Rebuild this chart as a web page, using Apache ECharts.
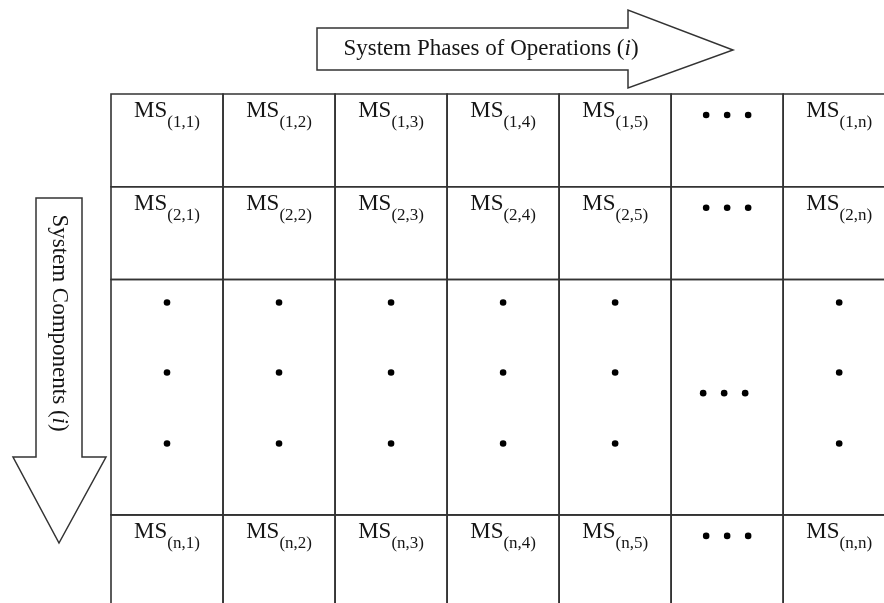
<!DOCTYPE html>
<html>
<head>
<meta charset="utf-8">
<script src="https://cdn.jsdelivr.net/npm/echarts@6/dist/echarts.min.js"></script>
<style>
html,body{margin:0;padding:0;background:#fff;}
#c{width:884px;height:603px;}
</style>
</head>
<body>
<div id="c"></div>
<script>
// ---- data ----
const colLabels = ['1', '2', '3', '4', '5', '…', 'n'];
const rowLabels = ['1', '2', '…', 'n'];
const topTitle = 'System Phases of Operations (';
const leftTitle = 'System Components (';
const titleVar = 'i';

// ---- layout ----
const rowEdges = [0, 1, 2, 4.54, 5.54];
const cells = [];
rowLabels.forEach((r, ri) => colLabels.forEach((c, ci) => cells.push([ci, ri])));

const LINE = '#333';
const INK = '#151515';
const SERIF = '"Liberation Serif", "Times New Roman", serif';

function renderItem(params, api) {
  const ci = api.value(0), ri = api.value(1);
  const x0 = api.coord([ci, 0])[0], x1 = api.coord([ci + 1, 0])[0];
  const y0 = api.coord([0, rowEdges[ri]])[1], y1 = api.coord([0, rowEdges[ri + 1]])[1];
  const cx = (x0 + x1) / 2;
  const children = [{
    type: 'rect',
    shape: { x: x0, y: y0, width: x1 - x0, height: y1 - y0 },
    style: { fill: 'none', stroke: LINE, lineWidth: 1.6 }
  }];
  const c = colLabels[ci], r = rowLabels[ri];
  const dot = (x, y) => ({ type: 'circle', shape: { cx: x, cy: y, r: 3.3 }, style: { fill: '#000' } });
  if (c === '…' && r === '…') {
    const y = (y0 + y1) / 2 - 4;
    [-21, 0, 21].forEach(d => children.push(dot(cx - 3 + d, y)));
  } else if (c === '…') {
    [-21, 0, 21].forEach(d => children.push(dot(cx + d, y0 + 21)));
  } else if (r === '…') {
    [23, 93, 164].forEach(d => children.push(dot(cx, y0 + d)));
  } else {
    children.push({
      type: 'text',
      x: cx, y: y0 - 3,
      style: {
        text: '{m|MS}{s|(' + r + ',' + c + ')}',
        align: 'center', verticalAlign: 'top',
        fill: INK,
        rich: {
          m: { fontFamily: SERIF, fontSize: 23, lineHeight: 40, fill: INK },
          s: { fontFamily: SERIF, fontSize: 17, lineHeight: 17, verticalAlign: 'bottom', fill: INK }
        }
      }
    });
  }
  return { type: 'group', children };
}

const chart = echarts.init(document.getElementById('c'));
chart.setOption({
  backgroundColor: '#fff',
  animation: false,
  grid: { left: 111, top: 94, right: 0, bottom: 0 },
  xAxis: { type: 'value', min: 0, max: 6.9, show: false },
  yAxis: { type: 'value', min: 0, max: 5.49, inverse: true, show: false },
  series: [{
    type: 'custom',
    clip: false,
    renderItem,
    data: cells,
    silent: true
  }],
  graphic: [
    {
      type: 'polygon',
      shape: { points: [[317, 28], [628, 28], [628, 10], [733, 50], [628, 88], [628, 70], [317, 70]] },
      style: { fill: '#fff', stroke: LINE, lineWidth: 1.5 }
    },
    {
      type: 'text', x: 491, y: 49,
      style: {
        text: '{n|' + topTitle + '}{i|' + titleVar + '}{n|)}',
        align: 'center', verticalAlign: 'middle',
        rich: {
          n: { fontFamily: SERIF, fontSize: 23, fill: INK },
          i: { fontFamily: SERIF, fontSize: 23, fontStyle: 'italic', fill: INK }
        }
      }
    },
    {
      type: 'polygon',
      shape: { points: [[36, 198], [82, 198], [82, 457], [106, 457], [59, 543], [13, 457], [36, 457]] },
      style: { fill: '#fff', stroke: LINE, lineWidth: 1.5 }
    },
    {
      type: 'text', x: 59, y: 323, rotation: -Math.PI / 2,
      style: {
        text: '{n|' + leftTitle + '}{i|' + titleVar + '}{n|)}',
        align: 'center', verticalAlign: 'middle',
        rich: {
          n: { fontFamily: SERIF, fontSize: 23, fill: INK },
          i: { fontFamily: SERIF, fontSize: 23, fontStyle: 'italic', fill: INK }
        }
      }
    }
  ]
});
</script>
</body>
</html>
